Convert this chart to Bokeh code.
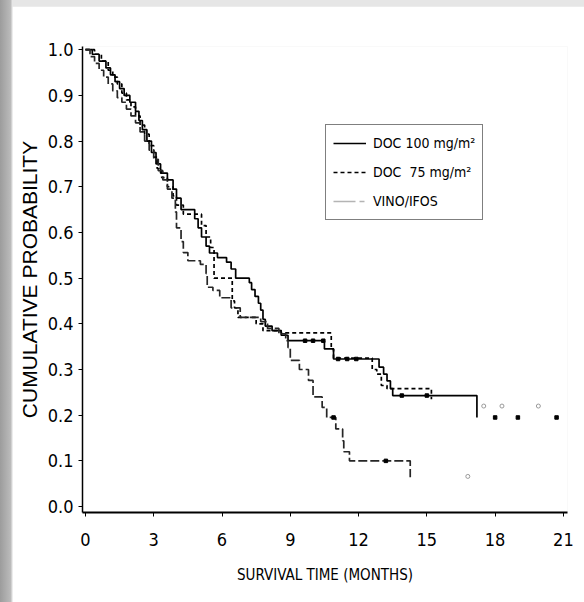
from bokeh.plotting import figure
from bokeh.models import FixedTicker, PrintfTickFormatter, Legend, LegendItem, Range1d
from bokeh.layouts import column
from bokeh.embed import file_html
from bokeh.resources import INLINE

# ---- data ----
x_ticks = [0, 3, 6, 9, 12, 15, 18, 21]
y_ticks = [0.0, 0.1, 0.2, 0.3, 0.4, 0.5, 0.6, 0.7, 0.8, 0.9, 1.0]

series_names = ["DOC 100 mg/m\u00b2", "DOC  75 mg/m\u00b2", "VINO/IFOS"]

t100 = [0, 0.3, 0.6, 0.9, 1.1, 1.3, 1.5, 1.7, 1.95, 2.2, 2.35, 2.5, 2.7, 2.9, 3.1,
        3.3, 3.6, 3.85, 4.0, 4.2, 4.8, 4.95, 5.1, 5.3, 5.45, 5.8, 6.2, 6.4, 6.6, 7.2,
        7.3, 7.45, 7.6, 7.7, 7.8, 7.9, 8.2, 8.6, 8.9, 10.5, 10.9, 12.9, 13.1, 13.25,
        13.4, 13.5, 17.2]
s100 = [1.0, 0.99, 0.975, 0.96, 0.945, 0.93, 0.915, 0.90, 0.885, 0.865, 0.845, 0.825,
        0.80, 0.775, 0.75, 0.73, 0.715, 0.695, 0.675, 0.65, 0.63, 0.61, 0.59, 0.57,
        0.555, 0.545, 0.535, 0.52, 0.50, 0.49, 0.475, 0.46, 0.445, 0.43, 0.41, 0.395,
        0.385, 0.375, 0.363, 0.345, 0.323, 0.305, 0.29, 0.275, 0.258, 0.243, 0.195]

t75 = [0, 0.4, 0.7, 1.0, 1.2, 1.4, 1.6, 1.8, 2.0, 2.2, 2.4, 2.6, 2.8, 3.0, 3.15, 3.35,
       3.6, 3.85, 4.0, 4.3, 5.1, 5.3, 5.5, 5.65, 6.45, 6.55, 6.7, 7.5, 7.8, 8.6, 10.8,
       10.9, 12.6, 12.8, 13.0, 13.25, 15.2]
s75 = [1.0, 0.99, 0.975, 0.955, 0.94, 0.925, 0.905, 0.89, 0.875, 0.855, 0.835, 0.815,
       0.79, 0.765, 0.74, 0.72, 0.70, 0.68, 0.66, 0.64, 0.615, 0.59, 0.567, 0.50, 0.45,
       0.435, 0.414, 0.40, 0.385, 0.38, 0.345, 0.325, 0.30, 0.29, 0.265, 0.258, 0.235]

tvi = [0, 0.2, 0.4, 0.6, 0.8, 1.0, 1.2, 1.4, 1.6, 1.8, 2.0, 2.2, 2.4, 2.6, 2.8, 3.0,
       3.2, 3.4, 3.6, 3.8, 3.95, 4.0, 4.2, 4.3, 4.5, 5.05, 5.3, 5.35, 5.6, 5.9, 6.4,
       6.8, 7.7, 8.0, 8.5, 8.8, 8.9, 9.0, 9.4, 9.8, 10.0, 10.4, 10.6, 11.0, 11.3,
       11.35, 11.6, 14.27]
svi = [1.0, 0.985, 0.97, 0.955, 0.94, 0.925, 0.91, 0.895, 0.885, 0.87, 0.855, 0.84,
       0.82, 0.80, 0.78, 0.76, 0.735, 0.715, 0.695, 0.675, 0.645, 0.61, 0.58, 0.556,
       0.538, 0.53, 0.51, 0.48, 0.473, 0.457, 0.435, 0.414, 0.405, 0.39, 0.378, 0.363,
       0.348, 0.32, 0.30, 0.276, 0.24, 0.217, 0.195, 0.17, 0.144, 0.12, 0.10, 0.064]

# censored observations
cens_t = [9.65, 10.0, 10.45, 11.1, 11.5, 11.9, 13.9, 15.0, 18.0, 19.0, 20.7, 10.9, 13.2]
cens_s = [0.363, 0.363, 0.363, 0.323, 0.323, 0.323, 0.243, 0.243, 0.195, 0.195, 0.195,
          0.195, 0.10]
faint_t = [17.5, 18.3, 19.9, 16.8]
faint_s = [0.22, 0.22, 0.22, 0.066]

NARROW = "Liberation Sans Narrow, Arial Narrow, DejaVu Sans Condensed, sans-serif"
NAN = float("nan")

p = figure(frame_width=485, frame_height=466,
           min_border_left=70, min_border_right=17, min_border_top=40, min_border_bottom=90,
           x_range=Range1d(-0.13, 21.18), y_range=Range1d(-0.013, 1.007),
           output_backend="svg", toolbar_location=None, margin=(6, 0, 0, 12),
           background_fill_color="white", border_fill_color="white")
p.outline_line_color = None
p.grid.visible = False

r100 = p.step(t100, s100, mode="after", line_color="black", line_width=1.7)
r75 = p.step(t75, s75, mode="after", line_color="black", line_width=1.7, line_dash="4 3")
rvi = p.step(tvi, svi, mode="after", line_color="#262626", line_width=1.7, line_dash="9 3")
p.scatter(cens_t, cens_s, marker="square", size=3.5, color="black")
p.scatter(faint_t, faint_s, marker="circle", size=4, fill_color=None, line_color="#9a9a9a")

# legend-only renderer for the grey VINO/IFOS key
lvi = p.line([NAN, NAN], [NAN, NAN], line_color="#b4b4b4", line_width=1.6,
             line_dash="22 4 5 2")
legend = Legend(items=[LegendItem(label=series_names[0], renderers=[r100]),
                       LegendItem(label=series_names[1], renderers=[r75]),
                       LegendItem(label=series_names[2], renderers=[lvi])],
                location=(243, 292))
legend.border_line_color = "black"
legend.border_line_width = 1.5
legend.background_fill_color = "white"
legend.background_fill_alpha = 1
legend.label_text_font = NARROW
legend.label_text_font_size = "14px"
legend.label_text_color = "black"
legend.glyph_width = 33
legend.glyph_height = 22
legend.label_height = 22
legend.spacing = 7
legend.padding = 7
legend.margin = 0
legend.label_standoff = 7
p.add_layout(legend)

# axes
for ax in (p.xaxis[0], p.yaxis[0]):
    ax.axis_line_color = "black"
    ax.major_tick_line_color = "black"
    ax.minor_tick_line_color = None
    ax.major_tick_in = 0
    ax.major_tick_out = 4
    ax.major_label_text_font = NARROW
    ax.major_label_text_font_size = "18px"
    ax.major_label_text_color = "black"
    ax.axis_label_text_font_style = "normal"
    ax.axis_label_text_color = "black"

p.xaxis.ticker = FixedTicker(ticks=x_ticks)
p.yaxis.ticker = FixedTicker(ticks=y_ticks)
p.yaxis.formatter = PrintfTickFormatter(format="%.1f")
p.xaxis.axis_line_width = 2
p.yaxis.axis_line_width = 1.5
p.xaxis.major_label_standoff = 16
p.yaxis.major_label_standoff = 5

p.xaxis.axis_label = "SURVIVAL TIME (MONTHS)"
p.xaxis.axis_label_text_font = NARROW
p.xaxis.axis_label_text_font_size = "15px"
p.xaxis.axis_label_standoff = 17

p.yaxis.axis_label = "CUMULATIVE PROBABILITY"
p.yaxis.axis_label_text_font = "Liberation Sans"
p.yaxis.axis_label_text_font_size = "21px"
p.yaxis.axis_label_standoff = 4

layout = column(p, styles={
    "background": "linear-gradient(to right, #9c9c9c 0px, #bcbcbc 11px, #e6e6e6 12px, #e6e6e6 100%)"
})

open("out.html", "w").write(file_html(layout, INLINE))
